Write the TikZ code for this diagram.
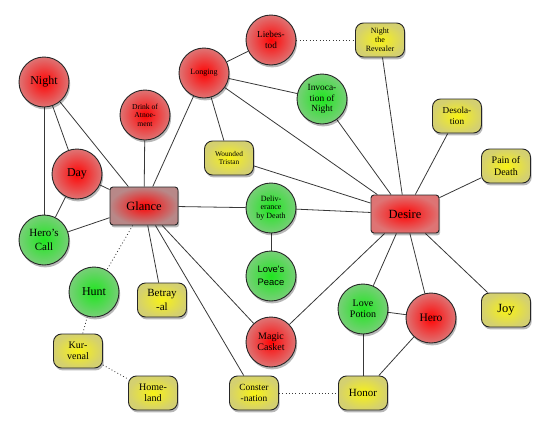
\documentclass[tikz,border=0pt]{standalone}
\usepackage{fontspec}
\setmainfont{Liberation Serif}
\newfontfamily\peacefont{Liberation Sans}
\usetikzlibrary{shadows,backgrounds}
\definecolor{wRedIn}{HTML}{FF0505}
\definecolor{wRedOut}{HTML}{DE7474}
\definecolor{wGrayOut}{HTML}{B88888}
\definecolor{wGreenIn}{HTML}{1FE61F}
\definecolor{wGreenOut}{HTML}{78CF78}
\definecolor{wYellowIn}{HTML}{F8F214}
\definecolor{wYellowOut}{HTML}{D4D070}
\newcommand{\fsz}[2]{\fontsize{#1}{#2}\selectfont}
\tikzset{
  every node/.style={text=black},
  softshadow/.style={drop shadow={shadow xshift=1.2pt, shadow yshift=-2.4pt, opacity=0.28, fill=black}},
  motif/.style={draw=black!85, line width=0.9pt, inner sep=0pt, align=center, softshadow},
  redc/.style={motif, circle, minimum size=50pt, shading=radial, inner color=wRedIn, outer color=wRedOut},
  greenc/.style={motif, circle, minimum size=50pt, shading=radial, inner color=wGreenIn, outer color=wGreenOut},
  yellowbox/.style={motif, rectangle, rounded corners=8pt, minimum width=49pt, minimum height=34pt, shading=radial, inner color=wYellowIn, outer color=wYellowOut},
  hub/.style={motif, rectangle, rounded corners=3pt, minimum width=68pt, minimum height=38pt, shading=radial, inner color=wRedIn},
  link/.style={draw=black!78, line width=0.8pt},
  hint/.style={draw=black!78, line width=0.8pt, dash pattern=on 0.9pt off 2.4pt},
}

\begin{document}
\begin{tikzpicture}[x=1pt, y=-1pt]
  \useasboundingbox (0,0) rectangle (550,432);

  % ── Left cluster ──
  \node[redc, font=\fsz{12}{13.5}]   (night)    at (44,82)  {Night};
  \node[redc, font=\fsz{12}{13.5}]   (day)      at (77,174) {Day};
  \node[greenc, font=\fsz{11}{13.5}] (herocall) at (44,240) {Hero's\\Call};
  \node[hub, outer color=wGrayOut, font=\fsz{12.5}{14}] (glance) at (144,206) {Glance};
  \node[redc, font=\fsz{7.6}{8.6}]   (drink)    at (145,115) {Drink of\\Atnoe-\\ment};

  % ── Upper middle ──
  \node[redc, font=\fsz{8}{9}]         (longing)    at (204,73)  {Longing};
  \node[redc, font=\fsz{9.2}{10.5}]    (liebestod)  at (271,40)  {Liebes-\\tod};
  \node[yellowbox, font=\fsz{8}{8.8}]  (revealer)   at (380,40)  {Night\\the\\Revealer};
  \node[greenc, font=\fsz{9.4}{10.6}]  (invocation) at (322,99)  {Invoca-\\tion of\\Night};
  \node[yellowbox, font=\fsz{7.3}{8.4}] (wounded)   at (229,158) {Wounded\\Tristan};

  % ── Right cluster ──
  \node[yellowbox, font=\fsz{9.2}{10.8}] (desolation) at (457,116) {Desola-\\tion};
  \node[yellowbox, font=\fsz{10}{11.5}]  (paindeath)  at (506,166) {Pain of\\Death};
  \node[hub, outer color=wRedOut, font=\fsz{12.5}{14}] (desire) at (405,214) {Desire};
  \node[yellowbox, font=\fsz{12.5}{14}]  (joy)        at (506,310) {Joy};

  % ── Centre column ──
  \node[greenc, font=\fsz{8}{8.8}]              (deliverance) at (271,208) {Deliv-\\erance\\by Death};
  \node[greenc, font=\peacefont\fsz{9.4}{13}]   (peace)       at (271,276) {Love's\\Peace};
  \node[redc, font=\fsz{10}{11.2}]              (casket)      at (271,342) {Magic\\Casket};

  % ── Lower left ──
  \node[greenc, font=\fsz{12}{13.5}]     (hunt)          at (94,292)  {Hunt};
  \node[yellowbox, font=\fsz{11}{13.5}]  (betrayal)      at (162,300) {Betray\\-al};
  \node[yellowbox, font=\fsz{10}{11.5}]  (kurvenal)      at (78,351)  {Kur-\\venal};
  \node[yellowbox, font=\fsz{10}{11.5}]  (homeland)      at (153,393) {Home-\\land};
  \node[yellowbox, font=\fsz{9.4}{10.6}] (consternation) at (254,393) {Conster\\-nation};

  % ── Lower right ──
  \node[greenc, font=\fsz{10}{11.2}]    (lovepotion) at (363,309) {Love\\Potion};
  \node[redc, font=\fsz{11.5}{13}]      (hero)       at (431,318) {Hero};
  \node[yellowbox, font=\fsz{11}{12.5}] (honor)      at (363,393) {Honor};

  % ── Connectors (behind the nodes) ──
  \begin{scope}[on background layer]
    \foreach \a/\b in {night/glance, night/day, night/herocall, day/glance, day/herocall,
                       herocall/glance, drink/glance, longing/glance, longing/liebestod,
                       longing/wounded, longing/invocation, longing/desire,
                       invocation/desire, revealer/desire, desolation/desire, paindeath/desire,
                       wounded/desire, glance/deliverance, deliverance/desire,
                       deliverance/peace, glance/betrayal, glance/consternation,
                       glance/casket, desire/casket, desire/lovepotion, desire/hero,
                       desire/joy, lovepotion/hero, lovepotion/honor, hero/honor}
      \draw[link] (\a) -- (\b);
    \foreach \a/\b in {liebestod/revealer, glance/hunt, hunt/kurvenal,
                       kurvenal/homeland, consternation/honor}
      \draw[hint] (\a) -- (\b);
  \end{scope}
\end{tikzpicture}
\end{document}
